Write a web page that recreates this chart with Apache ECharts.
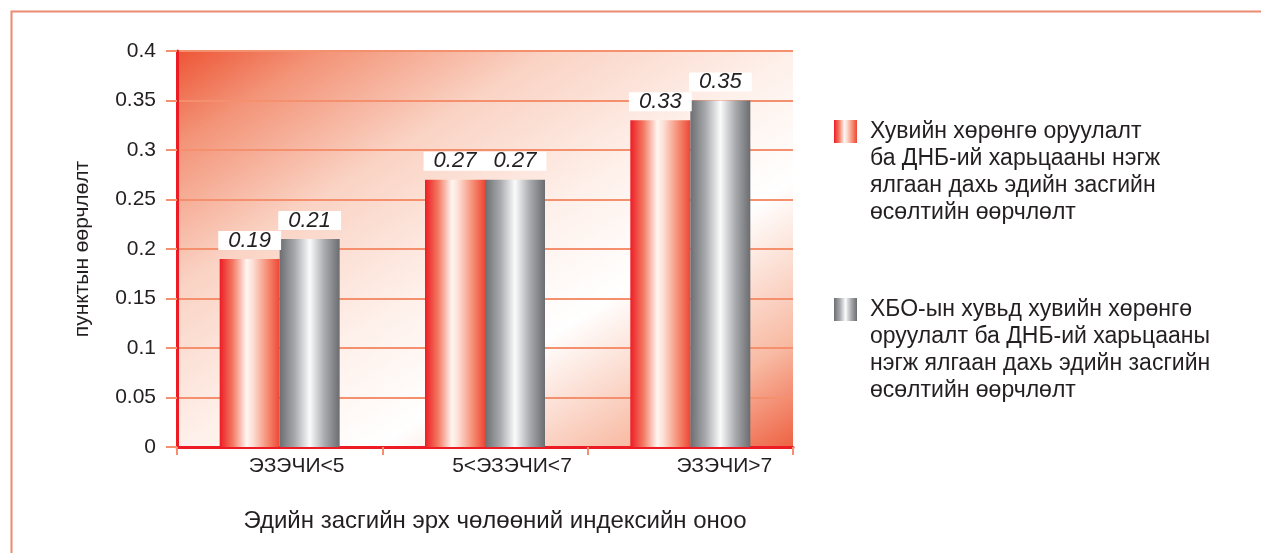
<!DOCTYPE html>
<html>
<head>
<meta charset="utf-8">
<script src="https://cdn.jsdelivr.net/npm/echarts@6/dist/echarts.min.js"></script>
<style>
  html, body { margin: 0; padding: 0; background: #fff; }
  #chart { width: 1261px; height: 553px; }
</style>
</head>
<body>
<div id="chart"></div>
<script>
  // categories and values
  var categories = ['ЭЗЭЧИ<5', '5<ЭЗЭЧИ<7', 'ЭЗЭЧИ>7']
  var privateInvest = [0.19, 0.27, 0.33]
  var sooInvest = [0.21, 0.27, 0.35]
  var yTicks = [0, 0.05, 0.1, 0.15, 0.2, 0.25, 0.3, 0.35, 0.4]

  var seriesNames = [
    'Хувийн хөрөнгө оруулалт ба ДНБ-ий харьцааны нэгж ялгаан дахь эдийн засгийн өсөлтийн өөрчлөлт',
    'ХБО-ын хувьд хувийн хөрөнгө оруулалт ба ДНБ-ий харьцааны нэгж ялгаан дахь эдийн засгийн өсөлтийн өөрчлөлт'
  ]
  var legendLines = [
    ['Хувийн хөрөнгө оруулалт', 'ба ДНБ-ий харьцааны нэгж', 'ялгаан дахь эдийн засгийн', 'өсөлтийн өөрчлөлт'],
    ['ХБО-ын хувьд хувийн хөрөнгө', 'оруулалт ба ДНБ-ий харьцааны', 'нэгж ялгаан дахь эдийн засгийн', 'өсөлтийн өөрчлөлт']
  ]

  var font = 'Liberation Sans, Arial, sans-serif'
  var textColor = '#231f20'
  var lh = 27

  var redBar = new echarts.graphic.LinearGradient(0, 0, 1, 0, [
    { offset: 0, color: '#ed1c24' },
    { offset: 0.22, color: '#f37a63' },
    { offset: 0.45, color: '#fff6f2' },
    { offset: 0.55, color: '#fde0d6' },
    { offset: 0.8, color: '#f58c73' },
    { offset: 1, color: '#ee4634' }
  ])
  var greyBar = new echarts.graphic.LinearGradient(0, 0, 1, 0, [
    { offset: 0, color: '#6d6e72' },
    { offset: 0.25, color: '#a7a8ac' },
    { offset: 0.5, color: '#fbfbfc' },
    { offset: 0.75, color: '#a9aaae' },
    { offset: 1, color: '#6b6c70' }
  ])
  // plot background, diagonal red -> white -> red
  var plotBg = new echarts.graphic.LinearGradient(177, 51, 536, 614, [
    { offset: 0, color: '#ed5535' },
    { offset: 0.12, color: '#f39478' },
    { offset: 0.3, color: '#fad3c4' },
    { offset: 0.5, color: '#fef0ea' },
    { offset: 0.66, color: '#ffffff' },
    { offset: 0.86, color: '#f8bba4' },
    { offset: 1, color: '#ee5f40' }
  ], true)

  var barLabel = {
    show: true,
    position: 'top',
    distance: 9,
    fontFamily: font,
    fontSize: 22,
    fontStyle: 'italic',
    color: textColor,
    backgroundColor: '#fff',
    padding: [0, 10, 0, 10],
    lineHeight: 19
  }

  function legendFor(i, top) {
    return {
      data: [seriesNames[i]],
      orient: 'vertical',
      left: 834,
      top: top,
      padding: 0,
      itemWidth: 23,
      itemHeight: 23,
      icon: 'rect',
      selectedMode: false,
      // empty block on top so the first line sits next to the icon
      formatter: function () {
        return '{pad| }\n' + legendLines[i].map(function (s) { return '{t|' + s + '}' }).join('\n')
      },
      textStyle: {
        fontFamily: font,
        fontSize: 23,
        color: textColor,
        rich: {
          pad: { height: 3 * lh, lineHeight: 3 * lh, fontSize: 10 },
          t: { fontFamily: font, fontSize: 23, color: textColor, lineHeight: lh, height: lh, padding: [0, 0, 0, 8] }
        }
      }
    }
  }

  var labelShift = [34, 54, 68]
  var catRich = {}
  labelShift.forEach(function (p, i) {
    catRich['c' + i] = { fontFamily: font, fontSize: 21, color: textColor, padding: [0, 0, 0, p] }
  })

  var chart = echarts.init(document.getElementById('chart'))
  chart.setOption({
    animation: false,
    graphic: [{
      type: 'rect',
      left: 9,
      top: 9,
      shape: { width: 1300, height: 600 },
      style: { fill: 'none', stroke: '#ec8a72', lineWidth: 2 },
      silent: true
    }],
    grid: {
      left: 177,
      right: 468,
      top: 51,
      bottom: 106,
      show: true,
      borderWidth: 0,
      backgroundColor: plotBg
    },
    legend: [legendFor(0, 120 - 3 * lh - 2), legendFor(1, 298 - 3 * lh - 2)],
    xAxis: {
      type: 'category',
      data: categories,
      name: 'Эдийн засгийн эрх чөлөөний индексийн оноо',
      nameLocation: 'middle',
      nameGap: 62,
      nameTextStyle: { fontFamily: font, fontSize: 24, color: textColor, padding: [0, 0, 0, 20] },
      axisLine: { lineStyle: { color: '#ed1c24', width: 3 } },
      axisTick: { show: true, length: 8, lineStyle: { color: '#f5906f', width: 2 } },
      axisLabel: {
        margin: 9,
        formatter: function (v, i) { return '{c' + i + '|' + v + '}' },
        rich: catRich
      }
    },
    yAxis: {
      type: 'value',
      min: 0,
      max: yTicks[yTicks.length - 1],
      interval: yTicks[1] - yTicks[0],
      name: 'пунктын өөрчлөлт',
      nameLocation: 'middle',
      nameGap: 84,
      nameRotate: 90,
      nameTextStyle: { fontFamily: font, fontSize: 21, color: textColor },
      axisLine: { show: true, lineStyle: { color: '#ed1c24', width: 3 } },
      axisTick: { show: true, length: 11, lineStyle: { color: '#f5906f', width: 2 } },
      axisLabel: {
        fontFamily: font,
        fontSize: 21,
        color: textColor,
        margin: 21,
        formatter: function (v) { return String(+v.toFixed(2)) }
      },
      splitLine: { lineStyle: { color: '#f5906f', width: 2 } }
    },
    series: [
      {
        name: seriesNames[0],
        type: 'bar',
        barWidth: 60,
        barGap: '0%',
        data: privateInvest,
        itemStyle: { color: redBar },
        label: barLabel
      },
      {
        name: seriesNames[1],
        type: 'bar',
        barWidth: 60,
        barGap: '0%',
        data: sooInvest,
        itemStyle: { color: greyBar },
        label: barLabel
      }
    ]
  })
</script>
</body>
</html>
